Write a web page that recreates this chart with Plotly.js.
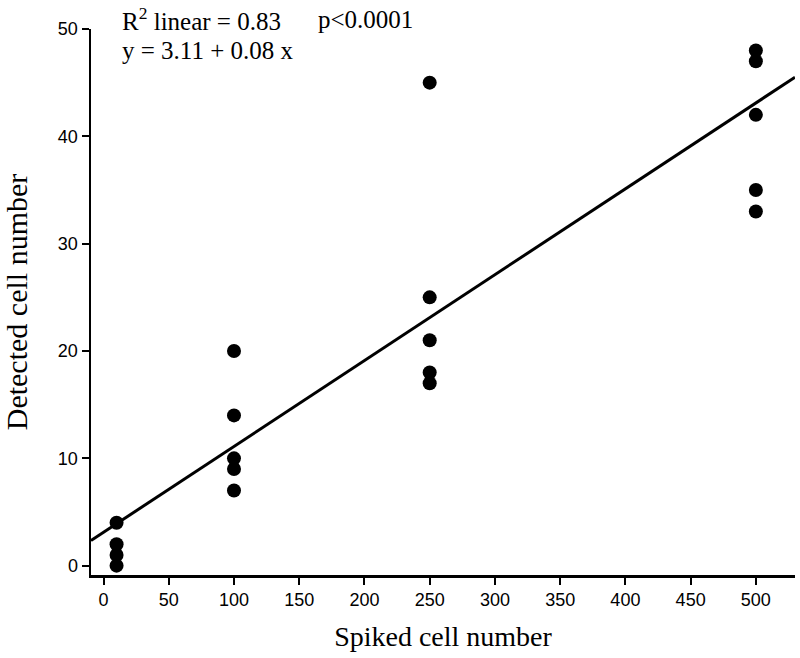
<!DOCTYPE html>
<html>
<head>
<meta charset="utf-8">
<script src="https://cdn.plot.ly/plotly-3.0.1.min.js"></script>
<style>html,body{margin:0;padding:0;background:#fff;}#chart{width:800px;height:658px;}</style>
</head>
<body>
<div id="chart"></div>
<script>
// Data
const spiked = [10, 10, 10, 10,
                100, 100, 100, 100, 100,
                250, 250, 250, 250, 250,
                500, 500, 500, 500, 500];
const detected = [0, 1, 2, 4,
                  7, 9, 10, 14, 20,
                  17, 18, 21, 25, 45,
                  33, 35, 42, 47, 48];
// Regression line reported on the chart: y = 3.11 + 0.08 x
const fitIntercept = 3.11;
const fitSlope = 0.08;
const fitX = [-9.6, 530];
const fitY = fitX.map(v => fitIntercept + fitSlope * v);
const xTicks = [0, 50, 100, 150, 200, 250, 300, 350, 400, 450, 500];
const yTicks = [0, 10, 20, 30, 40, 50];

const traces = [
  {x: fitX, y: fitY, mode: 'lines', type: 'scatter',
   line: {color: '#000', width: 3}, hoverinfo: 'skip', cliponaxis: false},
  {x: spiked, y: detected, mode: 'markers', type: 'scatter',
   marker: {color: '#000', size: 14}, cliponaxis: false}
];

const serif = 'Liberation Serif, Times New Roman, serif';
const sans = 'Liberation Sans, Arial, sans-serif';

const layout = {
  width: 800, height: 658,
  margin: {l: 91, r: 5, t: 29, b: 83},
  paper_bgcolor: '#fff', plot_bgcolor: '#fff',
  showlegend: false,
  xaxis: {
    range: [-9.6, 530], tickvals: xTicks, ticks: 'outside', ticklen: 7, tickwidth: 2,
    showline: true, linewidth: 2.5, linecolor: '#000', tickcolor: '#000',
    showgrid: false, zeroline: false,
    tickfont: {family: sans, size: 18, color: '#000'},
    title: {text: 'Spiked cell number', font: {family: serif, size: 28, color: '#000'}, standoff: 18}
  },
  yaxis: {
    range: [-0.87, 50], tickvals: yTicks, ticks: 'outside', ticklen: 7, tickwidth: 2,
    showline: true, linewidth: 2.5, linecolor: '#000', tickcolor: '#000',
    showgrid: false, zeroline: false,
    tickfont: {family: sans, size: 18, color: '#000'},
    title: {text: 'Detected cell number', font: {family: serif, size: 30, color: '#000'}, standoff: 22}
  },
  annotations: [
    {xref: 'paper', yref: 'paper', x: (120-91)/704, y: 1.018, xanchor: 'left', yanchor: 'middle',
     text: 'R<sup>2</sup> linear = 0.83', showarrow: false, font: {family: serif, size: 25, color: '#000'}},
    {xref: 'paper', yref: 'paper', x: (316-91)/704, y: 1.018, xanchor: 'left', yanchor: 'middle',
     text: 'p<0.0001', showarrow: false, font: {family: serif, size: 25, color: '#000'}},
    {xref: 'paper', yref: 'paper', x: (120-91)/704, y: 0.9615, xanchor: 'left', yanchor: 'middle',
     text: 'y = 3.11 + 0.08 x', showarrow: false, font: {family: serif, size: 25, color: '#000'}}
  ]
};

Plotly.newPlot('chart', traces, layout, {displayModeBar: false, staticPlot: true});
</script>
</body>
</html>
